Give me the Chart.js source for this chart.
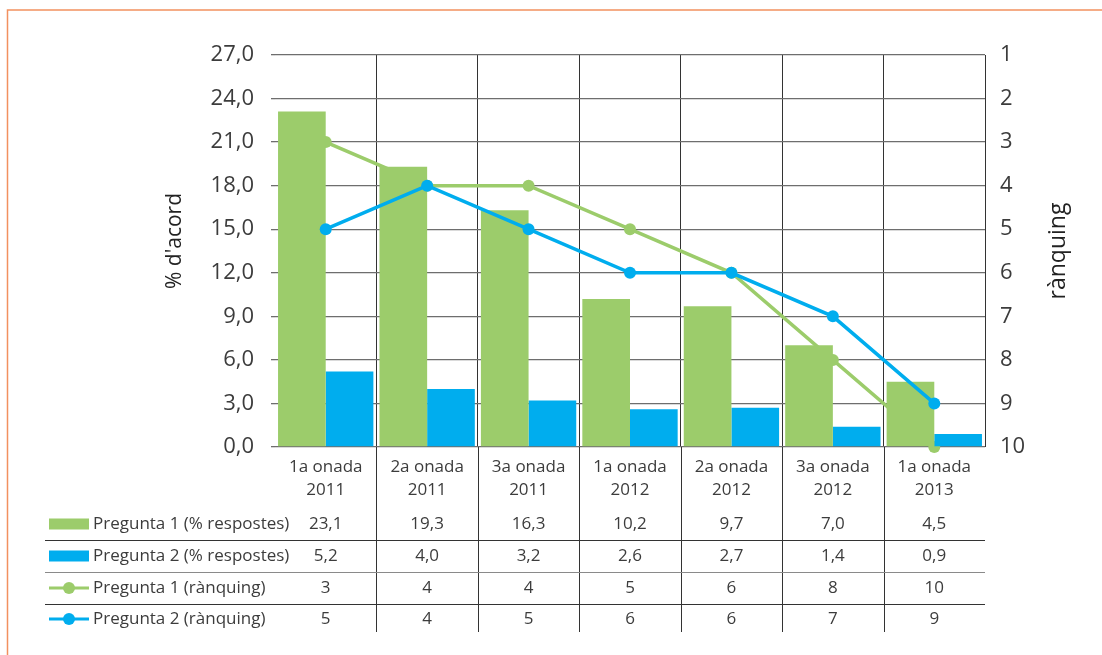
<!DOCTYPE html>
<html lang="ca">
<head>
    <meta charset="UTF-8">
    <title>Pregunta 1 i 2 - % d'acord i rànquing</title>
    <script src="https://cdn.jsdelivr.net/npm/chart.js"></script>
    <style>
        html, body { margin: 0; padding: 0; background: #fff; }
        #wrap { position: relative; width: 1102px; height: 655px; }
    </style>
</head>
<body>
    <div id="wrap"><canvas id="myChart"></canvas></div>

    <script>
        // dades llegides del gràfic
        const categories = [
            ['1a onada', '2011'], ['2a onada', '2011'], ['3a onada', '2011'],
            ['1a onada', '2012'], ['2a onada', '2012'], ['3a onada', '2012'],
            ['1a onada', '2013']
        ];
        const p1Pct = [23.1, 19.3, 16.3, 10.2, 9.7, 7.0, 4.5];
        const p2Pct = [5.2, 4.0, 3.2, 2.6, 2.7, 1.4, 0.9];
        const p1Rank = [3, 4, 4, 5, 6, 8, 10];
        const p2Rank = [5, 4, 5, 6, 6, 7, 9];
        const seriesNames = [
            'Pregunta 1 (% respostes)', 'Pregunta 2 (% respostes)',
            'Pregunta 1 (rànquing)', 'Pregunta 2 (rànquing)'
        ];

        const GREEN = '#9ccc6b';
        const BLUE = '#00adee';
        const TEXT = '#3c3c3c';
        const FONT = '"Open Sans", "Noto Sans", sans-serif';

        const fmt = v => v.toFixed(1).replace('.', ',');

        // taula de dades + títols d'eixos + marc
        const tablePlugin = {
            id: 'tablePlugin',
            afterDraw(chart) {
                const ctx = chart.ctx;
                const area = chart.chartArea;
                const x = chart.scales.x;
                const rowY = [77, 109, 141, 172].map(d => area.bottom + d);
                const rows = [p1Pct.map(fmt), p2Pct.map(fmt), p1Rank.map(String), p2Rank.map(String)];
                ctx.save();

                // línies verticals que continuen per la taula
                ctx.strokeStyle = '#333';
                ctx.lineWidth = 1;
                for (let i = 1; i < categories.length; i++) {
                    const bx = Math.round((x.getPixelForValue(i - 1) + x.getPixelForValue(i)) / 2) + 0.5;
                    ctx.beginPath();
                    ctx.moveTo(bx, area.bottom);
                    ctx.lineTo(bx, 632);
                    ctx.stroke();
                }

                // separadors de files
                const sepColors = ['#333', '#8a8a8a', '#333'];
                for (let r = 0; r < 3; r++) {
                    const sy = Math.round((rowY[r] + rowY[r + 1]) / 2) + 0.5;
                    ctx.strokeStyle = sepColors[r];
                    ctx.lineWidth = 1.2;
                    ctx.beginPath();
                    ctx.moveTo(45, sy);
                    ctx.lineTo(area.right, sy);
                    ctx.stroke();
                }

                // llegenda + valors
                ctx.font = '17px ' + FONT;
                ctx.fillStyle = TEXT;
                ctx.textBaseline = 'middle';
                rows.forEach((vals, r) => {
                    const y = rowY[r];
                    const col = (r % 2 === 0) ? GREEN : BLUE;
                    if (r < 2) {
                        ctx.fillStyle = col;
                        ctx.fillRect(49, y - 5.5, 40, 11);
                    } else {
                        ctx.strokeStyle = col;
                        ctx.lineWidth = 3;
                        ctx.beginPath();
                        ctx.moveTo(49, y);
                        ctx.lineTo(89, y);
                        ctx.stroke();
                        ctx.fillStyle = col;
                        ctx.beginPath();
                        ctx.arc(69, y, 6, 0, Math.PI * 2);
                        ctx.fill();
                    }
                    ctx.fillStyle = TEXT;
                    ctx.textAlign = 'left';
                    ctx.fillText(seriesNames[r], 93, y);
                    ctx.textAlign = 'center';
                    vals.forEach((v, i) => ctx.fillText(v, x.getPixelForValue(i), y));
                });

                // títols d'eixos
                ctx.fillStyle = '#222';
                ctx.textAlign = 'center';
                ctx.textBaseline = 'middle';
                ctx.save();
                ctx.font = '21px ' + FONT;
                ctx.translate(175, 241);
                ctx.rotate(-Math.PI / 2);
                ctx.fillText("% d'acord", 0, 0);
                ctx.restore();
                ctx.save();
                ctx.font = '23px ' + FONT;
                ctx.translate(1058, 251);
                ctx.rotate(-Math.PI / 2);
                ctx.fillText('rànquing', 0, 0);
                ctx.restore();

                // marc taronja
                ctx.strokeStyle = '#f2915f';
                ctx.lineWidth = 1.5;
                ctx.beginPath();
                ctx.moveTo(7.5, 655);
                ctx.lineTo(7.5, 10);
                ctx.lineTo(1102, 10);
                ctx.stroke();

                ctx.restore();
            }
        };

        new Chart(document.getElementById('myChart').getContext('2d'), {
            data: {
                labels: categories,
                datasets: [
                    {
                        type: 'bar', label: seriesNames[0], data: p1Pct, yAxisID: 'y',
                        backgroundColor: GREEN, order: 2,
                        barPercentage: 1, categoryPercentage: 0.94
                    },
                    {
                        type: 'bar', label: seriesNames[1], data: p2Pct, yAxisID: 'y',
                        backgroundColor: BLUE, order: 2,
                        barPercentage: 1, categoryPercentage: 0.94
                    },
                    {
                        type: 'line', label: seriesNames[2], data: p1Rank, yAxisID: 'y2',
                        borderColor: GREEN, backgroundColor: GREEN, borderWidth: 3.5,
                        pointRadius: 6, pointBorderWidth: 0, pointBackgroundColor: GREEN,
                        order: 3, clip: false
                    },
                    {
                        type: 'line', label: seriesNames[3], data: p2Rank, yAxisID: 'y2',
                        borderColor: BLUE, backgroundColor: BLUE, borderWidth: 3.5,
                        pointRadius: 6, pointBorderWidth: 0, pointBackgroundColor: BLUE,
                        order: 1, clip: false
                    }
                ]
            },
            options: {
                responsive: true,
                maintainAspectRatio: false,
                animation: false,
                layout: { padding: { top: 55, left: 0, right: 0, bottom: 0 } },
                plugins: { legend: { display: false }, tooltip: { enabled: false } },
                scales: {
                    x: {
                        offset: true,
                        border: { display: false },
                        grid: {
                            offset: true,
                            drawTicks: false,
                            lineWidth: 1,
                            color: c => (c.index === 0 || c.index === categories.length) ? 'rgba(0,0,0,0)' : '#333'
                        },
                        ticks: {
                            color: TEXT, padding: 9, maxRotation: 0, autoSkip: false,
                            font: { family: FONT, size: 17, lineHeight: 1.35 }
                        },
                        afterFit: s => { s.height = 208; }
                    },
                    y: {
                        position: 'left',
                        min: 0, max: 27,
                        border: { display: false },
                        grid: { color: '#6e6e6e', lineWidth: 1.3, tickLength: 4 },
                        ticks: {
                            stepSize: 3, padding: 17, color: TEXT,
                            font: { family: FONT, size: 22 },
                            callback: v => fmt(v)
                        },
                        afterFit: s => { s.width = 275; }
                    },
                    y2: {
                        position: 'right',
                        min: 1, max: 10, reverse: true,
                        border: { display: false },
                        grid: { display: false, drawTicks: false },
                        ticks: {
                            stepSize: 1, padding: 15, color: TEXT,
                            font: { family: FONT, size: 22 }
                        },
                        afterFit: s => { s.width = 117; }
                    }
                }
            },
            plugins: [tablePlugin]
        });
    </script>
</body>
</html>
